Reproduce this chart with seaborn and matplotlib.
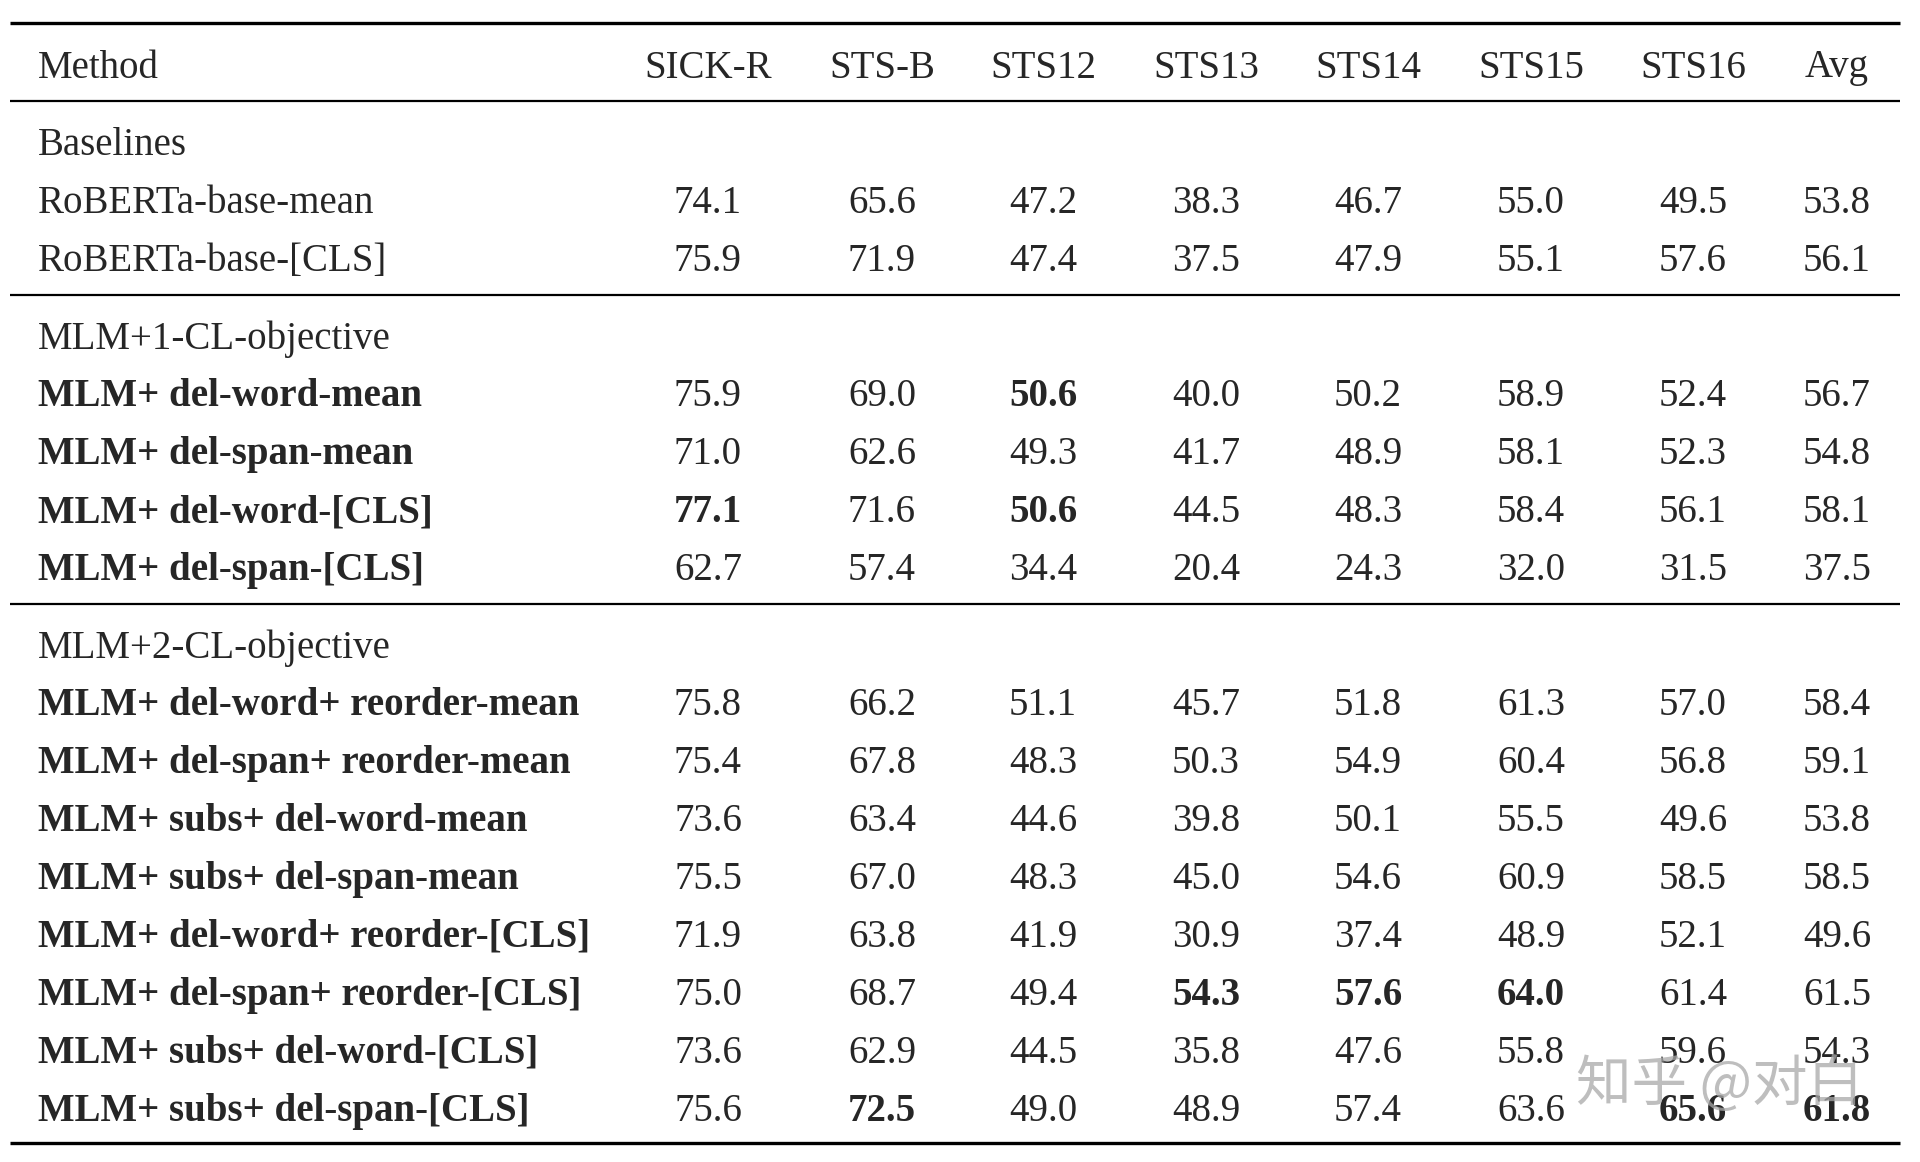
import seaborn as sns
import matplotlib.pyplot as plt

# Dados da tabela
columns = ["SICK-R", "STS-B", "STS12", "STS13", "STS14", "STS15", "STS16", "Avg"]

groups = ["Baselines", "MLM+1-CL-objective", "MLM+2-CL-objective"]

baseline_methods = ["RoBERTa-base-mean", "RoBERTa-base-[CLS]"]
baseline_scores = [
    [74.1, 65.6, 47.2, 38.3, 46.7, 55.0, 49.5, 53.8],
    [75.9, 71.9, 47.4, 37.5, 47.9, 55.1, 57.6, 56.1],
]

cl1_methods = ["MLM+ del-word-mean", "MLM+ del-span-mean",
               "MLM+ del-word-[CLS]", "MLM+ del-span-[CLS]"]
cl1_scores = [
    [75.9, 69.0, 50.6, 40.0, 50.2, 58.9, 52.4, 56.7],
    [71.0, 62.6, 49.3, 41.7, 48.9, 58.1, 52.3, 54.8],
    [77.1, 71.6, 50.6, 44.5, 48.3, 58.4, 56.1, 58.1],
    [62.7, 57.4, 34.4, 20.4, 24.3, 32.0, 31.5, 37.5],
]

cl2_methods = ["MLM+ del-word+ reorder-mean", "MLM+ del-span+ reorder-mean",
               "MLM+ subs+ del-word-mean", "MLM+ subs+ del-span-mean",
               "MLM+ del-word+ reorder-[CLS]", "MLM+ del-span+ reorder-[CLS]",
               "MLM+ subs+ del-word-[CLS]", "MLM+ subs+ del-span-[CLS]"]
cl2_scores = [
    [75.8, 66.2, 51.1, 45.7, 51.8, 61.3, 57.0, 58.4],
    [75.4, 67.8, 48.3, 50.3, 54.9, 60.4, 56.8, 59.1],
    [73.6, 63.4, 44.6, 39.8, 50.1, 55.5, 49.6, 53.8],
    [75.5, 67.0, 48.3, 45.0, 54.6, 60.9, 58.5, 58.5],
    [71.9, 63.8, 41.9, 30.9, 37.4, 48.9, 52.1, 49.6],
    [75.0, 68.7, 49.4, 54.3, 57.6, 64.0, 61.4, 61.5],
    [73.6, 62.9, 44.5, 35.8, 47.6, 55.8, 59.6, 54.3],
    [75.6, 72.5, 49.0, 48.9, 57.4, 63.6, 65.6, 61.8],
]

# células em negrito (melhores resultados)
bold_cells = [
    ("MLM+ del-word-mean", "STS12"),
    ("MLM+ del-word-[CLS]", "SICK-R"),
    ("MLM+ del-word-[CLS]", "STS12"),
    ("MLM+ del-span+ reorder-[CLS]", "STS13"),
    ("MLM+ del-span+ reorder-[CLS]", "STS14"),
    ("MLM+ del-span+ reorder-[CLS]", "STS15"),
    ("MLM+ subs+ del-span-[CLS]", "STS-B"),
    ("MLM+ subs+ del-span-[CLS]", "STS16"),
    ("MLM+ subs+ del-span-[CLS]", "Avg"),
]

sections = [
    (groups[0], baseline_methods, baseline_scores, False),
    (groups[1], cl1_methods, cl1_scores, True),
    (groups[2], cl2_methods, cl2_scores, True),
]

# Estilo
sns.set_theme(style="white")
plt.rcParams['font.family'] = ['Liberation Serif', 'DejaVu Serif']

W, H = 1920, 1162
fig = plt.figure(figsize=(W / 100, H / 100), dpi=100)
ax = fig.add_axes([0, 0, 1, 1])
ax.set_xlim(0, W)
ax.set_ylim(H, 0)
ax.axis("off")

# layout
left_x = 38
col_x = [708, 882, 1043, 1206, 1368, 1531, 1693, 1837]
fs = 28
row_step = 57.9
section_step = 77.5
dy = 4  # deslocamento vertical do texto
rule_l, rule_r = 10, 1900

def hrule(y, lw):
    ax.plot([rule_l, rule_r], [y, y], color="black", lw=lw, solid_capstyle="butt")

hrule(23, 2.4)
y = 64
ax.text(left_x, y + dy, "Method", fontsize=fs, va="center", ha="left")
for cx, c in zip(col_x, columns):
    ax.text(cx, y + dy, c, fontsize=fs, va="center", ha="center")
hrule(101, 1.6)

for si, (gname, methods, scores, bold_name) in enumerate(sections):
    y += section_step
    ax.text(left_x, y + dy, gname, fontsize=fs, va="center", ha="left")
    for m, vals in zip(methods, scores):
        y += row_step
        ax.text(left_x, y + dy, m, fontsize=fs, va="center", ha="left",
                fontweight="bold" if bold_name else "normal")
        for cx, c, v in zip(col_x, columns, vals):
            w = "bold" if (m, c) in bold_cells else "normal"
            ax.text(cx, y + dy, f"{v:.1f}", fontsize=fs, va="center", ha="center", fontweight=w)
    if si < len(sections) - 1:
        hrule(y + 38, 1.6)

hrule(1143, 2.4)

# marca d'água
ax.text(1720, 1085, "知乎 @对白", fontsize=40, va="center", ha="center",
        color="#a8a8a8", alpha=0.75, family=['Noto Sans CJK SC', 'DejaVu Sans'])

fig.savefig("out.png", dpi=100, facecolor="white")
